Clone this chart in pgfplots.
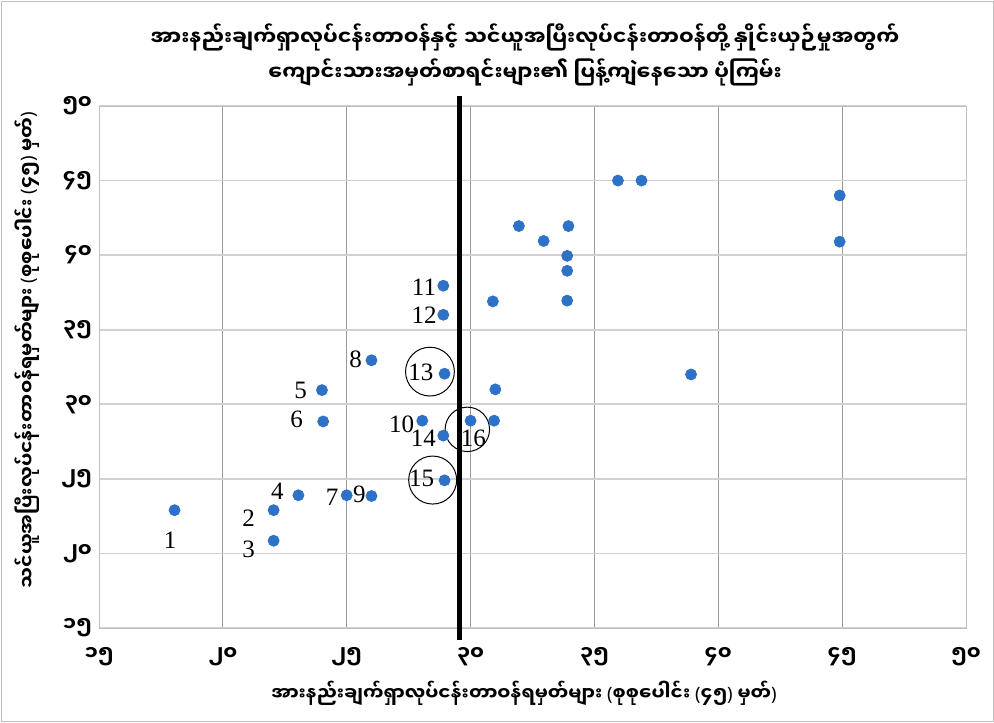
\documentclass[border=0pt]{standalone}
\usepackage{fontspec}
\setmainfont{Liberation Serif}
\newfontfamily\my[Script=Myanmar]{Noto Sans Myanmar UI}
\newfontfamily\ns{Noto Sans}
\newcommand\lp{{\ns(}}
\newcommand\rp{{\ns)}}
\usepackage{pgfplots}
\pgfplotsset{compat=1.18}
\definecolor{dot}{HTML}{2E72C8}
\pgfplotstableread{
x y
18.05 22.9
22.05 22.9
22.05 20.85
23.05 23.9
24.0 30.95
24.05 28.85
25.0 23.9
26.0 32.95
26.0 23.85
28.05 28.9
28.9 37.95
28.9 36.0
28.95 32.05
28.9 27.9
28.95 24.9
30.0 28.9
30.9 36.9
31.0 31.0
30.95 28.9
31.95 41.95
32.95 40.95
33.95 41.95
33.9 39.95
33.9 38.95
33.9 36.95
35.95 45.0
36.9 45.0
38.9 32.0
44.9 44.0
44.9 40.9
}\scores
\begin{document}
\begin{tikzpicture}
\useasboundingbox (-49.5pt,-47pt) rectangle (447.5pt,314pt);
\begin{axis}[at={(0pt,0pt)}, anchor=south west, scale only axis,
  width=433.5pt, height=261pt,
  xmin=15, xmax=50, ymin=15, ymax=50,
  xtick={15,20,...,50}, ytick={15,20,...,50},
  xticklabels={၁၅,၂၀,၂၅,၃၀,၃၅,၄၀,၄၅,၅၀},
  yticklabels={၁၅,၂၀,၂၅,၃၀,၃၅,၄၀,၄၅,၅၀},
  grid=major,
  x grid style={black!40, line width=0.4pt},
  y grid style={black!18, line width=0.8pt},
  axis line style={black!25},
  major tick length=0pt,
  tick label style={font=\my\bfseries\fontsize{10}{12}\selectfont},
  xticklabel style={yshift=-6pt},
  clip=false]
\addplot[line width=2.5pt, black] coordinates {(29.55,14.2) (29.55,50.7)};
\addplot[only marks, mark=*, mark size=2.75pt, mark options={fill=dot, draw=dot}] table[x=x,y=y] {\scores};
\begin{scope}[every node/.style={font=\fontsize{12.5}{14}\selectfont, inner sep=0pt}]
\node at (axis cs:17.87,20.9) {1};
\node at (axis cs:21.04,22.36) {2};
\node at (axis cs:21.04,20.28) {3};
\node at (axis cs:22.2,24.14) {4};
\node at (axis cs:23.14,30.91) {5};
\node at (axis cs:22.98,28.99) {6};
\node at (axis cs:24.41,23.74) {7};
\node at (axis cs:25.36,33.02) {8};
\node at (axis cs:25.51,23.97) {9};
\node at (axis cs:27.22,28.68) {10};
\node at (axis cs:28.12,37.88) {11};
\node at (axis cs:28.12,35.94) {12};
\node at (axis cs:27.99,32.15) {13};
\node at (axis cs:28.09,27.72) {14};
\node at (axis cs:28.02,25.04) {15};
\node at (axis cs:30.11,27.72) {16};
\end{scope}
\draw[line width=0.5pt] (axis cs:28.36,32.19) circle[radius=12.2pt];
\draw[line width=0.5pt] (axis cs:28.47,24.92) circle[radius=12pt];
\draw[line width=0.5pt] (axis cs:29.87,28.32) circle[radius=11.1pt];
\end{axis}
\draw[black!25] (-49pt,-46.5pt) rectangle (447pt,313.5pt);
\node[font=\my\bfseries\fontsize{10.3}{17.5}\selectfont, align=center, inner sep=0pt] at (213pt,286.5pt) {အားနည်းချက်ရှာလုပ်ငန်းတာဝန်နှင့် သင်ယူအပြီးလုပ်ငန်းတာဝန်တို့ နှိုင်းယှဉ်မှုအတွက်\\ကျောင်းသားအမှတ်စာရင်းများ၏ ပြန့်ကျဲနေသော ပုံကြမ်း};
\node[font=\my\bfseries\fontsize{9.2}{11}\selectfont] at (212.5pt,-32.5pt) {အားနည်းချက်ရှာလုပ်ငန်းတာဝန်ရမှတ်များ \lp စုစုပေါင်း \lp ၄၅\rp{} မှတ်\rp};
\node[font=\my\bfseries\fontsize{9.3}{11}\selectfont, rotate=90] at (-36pt,139pt) {သင်ယူအပြီးလုပ်ငန်းတာဝန်ရမှတ်များ \lp စုစုပေါင်း \lp ၄၅\rp{} မှတ်\rp};
\end{tikzpicture}
\end{document}
